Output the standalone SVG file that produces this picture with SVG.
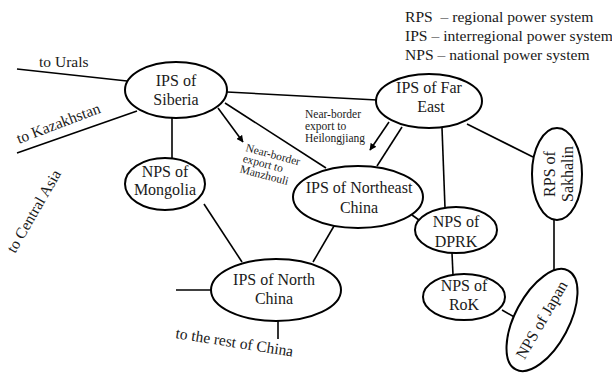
<svg xmlns="http://www.w3.org/2000/svg" width="612" height="374" viewBox="0 0 612 374" font-family="'Liberation Serif', 'DejaVu Serif', serif">
<style>
.n{fill:#fff;stroke:#000;stroke-width:2}
.c{stroke:#000;stroke-width:1.6;fill:none}
text{font-family:'Liberation Serif','DejaVu Serif',serif;fill:#1a1a1a}
.t{font-size:16px;text-anchor:middle}
.l{font-size:15.5px}
.s{font-size:11.5px}
.g{font-size:15.6px;white-space:pre}
</style>
<defs>
<marker id="ah" viewBox="0 0 10 10" refX="9" refY="5" markerWidth="7" markerHeight="7" orient="auto" markerUnits="userSpaceOnUse">
<path d="M0,0 L10,5 L0,10 z" fill="#000"/>
</marker>
</defs>
<rect width="612" height="374" fill="#fff"/>
<g id="legend">
<text class="g" x="405" y="22">RPS  – regional power system</text>
<text class="g" x="405" y="41">IPS – interregional power system</text>
<text class="g" x="405" y="60">NPS – national power system</text>
</g>
<g id="connectors">
<line class="c" x1="17" y1="69" x2="127" y2="81"/>
<line class="c" x1="17" y1="153" x2="137" y2="111"/>
<line class="c" x1="172" y1="118" x2="172" y2="158"/>
<line class="c" x1="227" y1="92" x2="377" y2="100"/>
<line class="c" x1="225" y1="103" x2="326" y2="168"/>
<line class="c" x1="218" y1="108" x2="243" y2="142" marker-end="url(#ah)"/>
<line class="c" x1="389" y1="122" x2="370" y2="150" marker-end="url(#ah)"/>
<line class="c" x1="402" y1="127" x2="377" y2="166"/>
<line class="c" x1="442" y1="128" x2="445" y2="208"/>
<line class="c" x1="467" y1="124" x2="533" y2="157"/>
<line class="c" x1="554" y1="220" x2="554" y2="272"/>
<line class="c" x1="412" y1="215" x2="419" y2="220"/>
<line class="c" x1="452" y1="253" x2="453" y2="275"/>
<line class="c" x1="502" y1="310" x2="516" y2="318"/>
<line class="c" x1="204" y1="204" x2="242" y2="262"/>
<line class="c" x1="334" y1="226" x2="313" y2="262"/>
<line class="c" x1="176" y1="290" x2="211" y2="290"/>
<line class="c" x1="278" y1="321" x2="278" y2="339"/>
</g>
<g id="labels">
<text class="l" x="39" y="67">to Urals</text>
<text class="l" transform="translate(19,144) rotate(-21)">to Kazakhstan</text>
<text class="l" transform="translate(15,254) rotate(-60)">to Central Asia</text>
<text class="l" transform="translate(175,338) rotate(9)">to the rest of China</text>
<g transform="translate(245,151) rotate(15)">
<text class="s" x="0" y="0">Near-border</text>
<text class="s" x="0" y="11">export to</text>
<text class="s" x="0" y="22">Manzhouli</text>
</g>
<text class="s" x="305" y="118">Near-border</text>
<text class="s" x="305" y="130">export to</text>
<text class="s" x="305" y="142">Heilongjiang</text>
</g>
<g id="siberia">
<ellipse class="n" cx="176" cy="90" rx="51" ry="28"/>
<text class="t" x="176" y="86">IPS of</text>
<text class="t" x="176" y="105">Siberia</text>
</g>
<g id="mongolia">
<ellipse class="n" cx="165" cy="184" rx="40" ry="26"/>
<text class="t" x="165" y="177">NPS of</text>
<text class="t" x="165" y="195">Mongolia</text>
</g>
<g id="fareast">
<ellipse class="n" cx="429" cy="101" rx="53" ry="27"/>
<text class="t" x="429" y="93">IPS of Far</text>
<text class="t" x="431" y="112">East</text>
</g>
<g id="northeast">
<ellipse class="n" cx="358" cy="197" rx="65" ry="31"/>
<text class="t" x="359" y="193">IPS of Northeast</text>
<text class="t" x="359" y="213">China</text>
</g>
<g id="northchina">
<ellipse class="n" cx="276" cy="290" rx="65" ry="31"/>
<text class="t" x="274" y="285">IPS of North</text>
<text class="t" x="274" y="304">China</text>
</g>
<g id="dprk">
<ellipse class="n" cx="456" cy="230" rx="41" ry="23"/>
<text class="t" x="456" y="227">NPS of</text>
<text class="t" x="456" y="247">DPRK</text>
</g>
<g id="rok">
<ellipse class="n" cx="464" cy="297" rx="41" ry="23"/>
<text class="t" x="464" y="291">NPS of</text>
<text class="t" x="464" y="310">RoK</text>
</g>
<g id="sakhalin">
<ellipse class="n" cx="557" cy="174" rx="25" ry="46"/>
<g transform="translate(557,174) rotate(-90)">
<text class="t" x="0" y="-2">RPS of</text>
<text class="t" x="0" y="16">Sakhalin</text>
</g>
</g>
<g id="japan">
<ellipse class="n" cx="542" cy="320" rx="56" ry="27" transform="rotate(-62 542 320)"/>
<text class="t" transform="translate(542,320) rotate(-60)" x="0" y="5">NPS of Japan</text>
</g>
</svg>
